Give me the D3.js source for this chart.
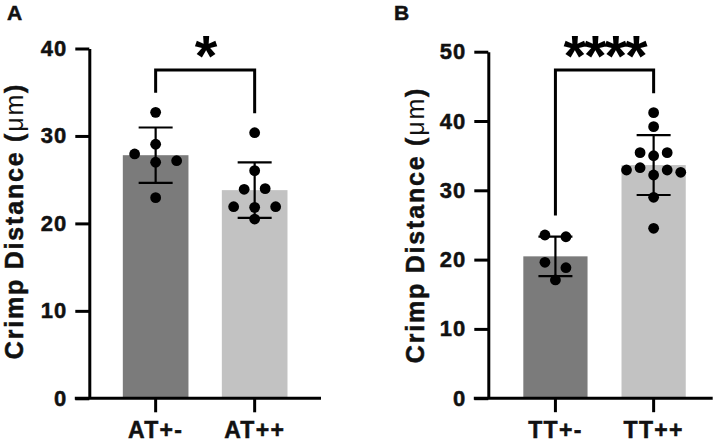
<!DOCTYPE html>
<html><head><meta charset="utf-8">
<script src="https://cdn.jsdelivr.net/npm/d3@7"></script>
<style>html,body{margin:0;padding:0;background:#fff;}svg{display:block;}</style>
</head><body>
<svg id="chart" width="720" height="443"></svg>
<script>
// ---- data ----
const panelLabels = ["A", "B"];
const categoriesA = ["AT+-", "AT++"];
const categoriesB = ["TT+-", "TT++"];
const valuesA1 = [32.70, 29.05, 27.94, 26.99, 27.17, 22.94];
const valuesA2 = [30.37, 26.03, 23.90, 23.97, 21.91, 21.84, 21.91, 20.50];
const valuesB1 = [23.55, 23.30, 19.61, 18.83, 17.06];
const valuesB2 = [41.20, 39.18, 35.43, 34.99, 35.43, 32.93, 33.26, 32.21, 32.93, 32.60, 28.99, 24.52];
const ticksA = [0, 10, 20, 30, 40];
const ticksB = [0, 10, 20, 30, 40, 50];
const significanceA = "*";
const significanceB = "****";
const yTitleMain = "Crimp Distance (";
const yTitleUnit = "μm";
const yTitleEnd = ")";

// ---- layout ----
const svg = d3.select("#chart");
const FONT = "'Liberation Sans', Arial, Helvetica, sans-serif";
const barColors = ["#7b7b7b", "#c2c2c2"];

const panels = [
  { label: panelLabels[0], cats: categoriesA, groups: [valuesA1, valuesA2], ticks: ticksA, sig: significanceA,
    axisX: 89.3, xEnd: 321, yBottom: 398.3, yTop: 48.5, padInner: 0.337, padOuter: 0.3385, align: 0.5,
    labelX: 7, titleX: 23, titleY: 221 },
  { label: panelLabels[1], cats: categoriesB, groups: [valuesB1, valuesB2], ticks: ticksB, sig: significanceB,
    axisX: 488.3, xEnd: 712.7, yBottom: 398.2, yTop: 51.7, padInner: 0.346, padOuter: 0.3155, align: 0.565,
    labelX: 394, titleX: 424, titleY: 225 }
];

function sd(arr) { return d3.deviation(arr); }

function swarm(vals, y, cx, bw) {
  const pts = vals.map((v, i) => ({ v, i, py: y(v) }));
  const sorted = pts.slice().sort((a, b) => a.py - b.py);
  const rows = []; let cur = null;
  for (const p of sorted) {
    if (!cur || p.py - cur.start > 9) { cur = { start: p.py, pts: [] }; rows.push(cur); }
    cur.pts.push(p);
  }
  const maxRow = d3.max(rows, r => r.pts.length);
  const step = maxRow > 1 ? Math.min(21, (bw - 10) / (maxRow - 1)) : 0;
  rows.forEach(r => {
    r.pts.sort((a, b) => a.i - b.i);
    const n = r.pts.length;
    r.pts.forEach((p, k) => { p.px = cx + (k - (n - 1) / 2) * step; });
  });
  return pts;
}

function heavy(sel) { return sel.attr("stroke", "#111").attr("stroke-width", 0.5); }

panels.forEach(P => {
  const g = svg.append("g");
  const yMax = d3.max(P.ticks);
  const y = d3.scaleLinear().domain([0, yMax]).range([P.yBottom, P.yTop]);
  const x = d3.scaleBand().domain(P.cats).range([P.axisX, P.xEnd])
    .paddingInner(P.padInner).paddingOuter(P.padOuter).align(P.align);
  const bw = x.bandwidth();

  const stats = P.groups.map(vals => ({ mean: d3.mean(vals), sd: sd(vals), max: d3.max(vals) }));

  // bars
  g.selectAll("rect.bar").data(P.cats).join("rect")
    .attr("x", d => x(d)).attr("width", bw)
    .attr("y", (d, i) => y(stats[i].mean))
    .attr("height", (d, i) => y(0) - y(stats[i].mean))
    .attr("fill", (d, i) => barColors[i]);

  // dots
  P.cats.forEach((c, gi) => {
    const cx = x(c) + bw / 2;
    const pts = swarm(P.groups[gi], y, cx, bw);
    g.append("g").selectAll("circle").data(pts).join("circle")
      .attr("cx", d => d.px).attr("cy", d => d.py).attr("r", 5.4).attr("fill", "#000");
  });

  // error bars
  P.cats.forEach((c, gi) => {
    const cx = x(c) + bw / 2;
    const s = stats[gi];
    const eg = g.append("g").attr("stroke", "#000").attr("stroke-width", 2.2);
    eg.append("line").attr("x1", cx).attr("x2", cx).attr("y1", y(s.mean - s.sd)).attr("y2", y(s.mean + s.sd));
    eg.append("line").attr("x1", cx - 17).attr("x2", cx + 17).attr("y1", y(s.mean + s.sd)).attr("y2", y(s.mean + s.sd));
    eg.append("line").attr("x1", cx - 17).attr("x2", cx + 17).attr("y1", y(s.mean - s.sd)).attr("y2", y(s.mean - s.sd));
  });

  // y axis
  const ya = g.append("g").attr("transform", `translate(${P.axisX},0)`)
    .call(d3.axisLeft(y).tickValues(P.ticks).tickSize(14).tickSizeOuter(0).tickPadding(8));
  ya.select(".domain").attr("stroke-width", 3);
  ya.selectAll(".tick line").attr("stroke-width", 3);
  heavy(ya.selectAll(".tick text").attr("font-family", FONT).attr("font-size", 22)
    .attr("font-weight", "bold").attr("letter-spacing", "1px").attr("fill", "#111"));

  // x axis
  const xa = g.append("g").attr("transform", `translate(0,${y(0)})`)
    .call(d3.axisBottom(x).tickSize(14).tickSizeOuter(0).tickPadding(9));
  xa.select(".domain").remove();
  xa.append("line").attr("x1", P.axisX - 14.5).attr("x2", P.xEnd).attr("y1", 0).attr("y2", 0)
    .attr("stroke", "#000").attr("stroke-width", 3);
  xa.selectAll(".tick line").attr("stroke-width", 3);
  heavy(xa.selectAll(".tick text").attr("font-family", FONT).attr("font-size", 23)
    .attr("font-weight", "bold").attr("letter-spacing", "1.3px").attr("fill", "#111"));

  // y title
  const t = g.append("text")
    .attr("transform", `translate(${P.titleX},${P.titleY}) rotate(-90)`)
    .attr("text-anchor", "middle").attr("font-family", FONT).attr("font-size", 25)
    .attr("fill", "#111").attr("letter-spacing", "1.8px");
  heavy(t.append("tspan").attr("font-weight", "bold").text(yTitleMain));
  t.append("tspan").attr("font-weight", "normal").text(yTitleUnit);
  heavy(t.append("tspan").attr("font-weight", "bold").text(yTitleEnd));

  // panel label
  heavy(g.append("text").attr("x", P.labelX).attr("y", 19.8).attr("font-family", FONT)
    .attr("font-size", 21).attr("font-weight", "bold").attr("fill", "#111").text(P.label));

  // significance bracket
  const c1 = x(P.cats[0]) + bw / 2, c2 = x(P.cats[1]) + bw / 2;
  const topY = 70;
  g.append("path")
    .attr("d", `M${c1},${y(stats[0].max) - 19.5}V${topY}H${c2}V${y(stats[1].max) - 19.5}`)
    .attr("fill", "none").attr("stroke", "#000").attr("stroke-width", 3);
  g.append("text").attr("x", (c1 + c2) / 2).attr("y", 76).attr("text-anchor", "middle")
    .attr("font-family", FONT).attr("font-size", 58).attr("font-weight", "bold")
    .attr("letter-spacing", "-2px").attr("fill", "#000").text(P.sig);
});
</script>
</body></html>
